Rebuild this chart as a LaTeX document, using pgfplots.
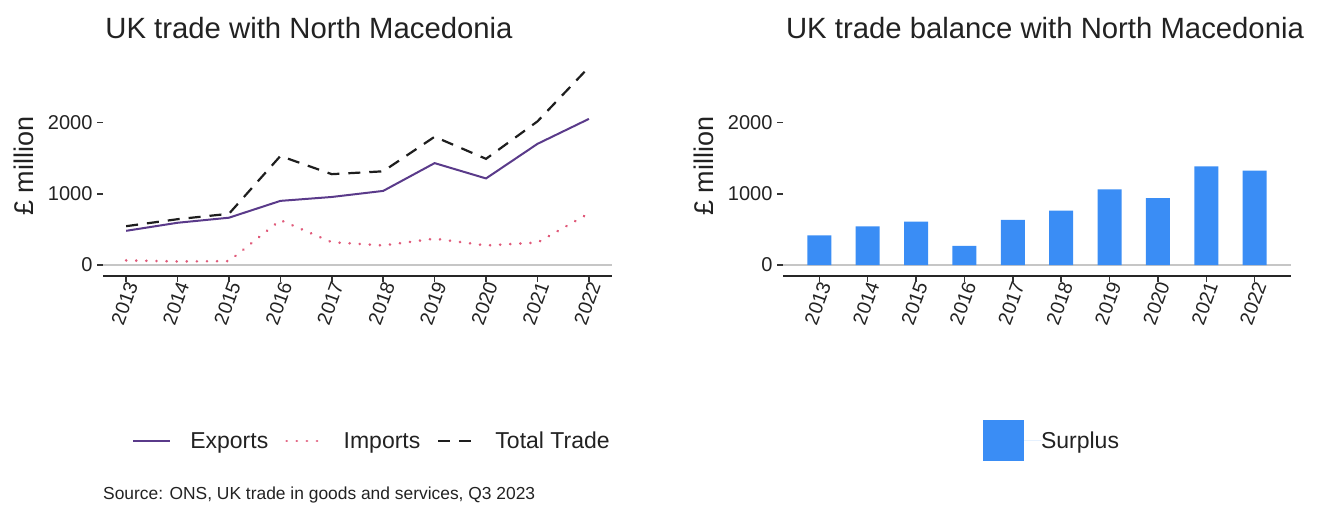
\documentclass[border=0pt]{standalone}
\usepackage{pgfplots}
\pgfplotsset{compat=1.18}
\usepackage{fontspec}
\setmainfont{Liberation Sans}
\definecolor{expcol}{HTML}{5A3A8A}
\definecolor{impcol}{HTML}{E05A7A}
\definecolor{totcol}{HTML}{1E1E1E}
\definecolor{barcol}{HTML}{3A8DF5}
\definecolor{txtcol}{HTML}{222222}
\pgfplotsset{
  panel/.style={
    scale only axis,
    anchor=south west,
    width=508pt, height=218.5pt,
    ymin=-147, ymax=2919,
    axis x line*=bottom, axis y line*=left,
    axis line style={-},
    x axis line style={line width=2pt, color=black!85},
    y axis line style={draw=none},
    tick align=outside,
    major tick length=6pt,
    tick style={line width=1.5pt, color=black!80},
    ytick={0,1000,2000},
    yticklabels={0,1000,2000},
    yticklabel style={font=\fontsize{20}{22}\selectfont, text=txtcol, xshift=-1pt},
    xticklabel style={font=\fontsize{19.5}{22}\selectfont, text=txtcol, rotate=70, anchor=east, xshift=4pt, yshift=-6pt},
    /pgf/number format/1000 sep={},
    /pgf/number format/assume math mode=true,
    clip=false,
  }
}
\begin{document}
\begin{tikzpicture}
\path[use as bounding box] (0pt,0pt) rectangle (1322pt,-513pt);
% ---------------- left panel ----------------
\begin{axis}[panel,
  at={(103pt,-275.5pt)},
  width=509pt,
  xmin=2012.55, xmax=2022.45,
  xtick={2013,2014,2015,2016,2017,2018,2019,2020,2021,2022},
  xticklabels={2013,2014,2015,2016,2017,2018,2019,2020,2021,2022},
  legend columns=3,
  legend style={at={(0.5265,-0.757)}, anchor=center, draw=none, fill=none,
    font=\fontsize{23}{27}\selectfont, text=txtcol,
    /tikz/every even column/.append style={column sep=17pt},
    nodes={inner xsep=0pt}},
  legend image code/.code={\draw[#1] (0pt,0pt) -- (37pt,0pt); \path[draw=none] (0pt,0pt) -- (57pt,0pt);},
]
\addplot[gray!45, line width=1.2pt, forget plot] coordinates {(2012.55,0) (2022.45,0)};
\addplot[expcol, line width=2pt] coordinates {
  (2013,480) (2014,593) (2015,664) (2016,900) (2017,955)
  (2018,1040) (2019,1430) (2020,1215) (2021,1700) (2022,2050)};
\addlegendentry{Exports}
\addplot[impcol, line width=2.8pt, line cap=round, dash pattern=on 0.1pt off 10pt] coordinates {
  (2013,65) (2014,50) (2015,55) (2016,630) (2017,320)
  (2018,275) (2019,370) (2020,275) (2021,315) (2022,725)};
\addlegendentry{Imports}
\addplot[totcol, line width=2.2pt, dash pattern=on 12pt off 9pt] coordinates {
  (2013,545) (2014,643) (2015,719) (2016,1530) (2017,1275)
  (2018,1315) (2019,1800) (2020,1490) (2021,2015) (2022,2775)};
\addlegendentry{Total Trade}
\end{axis}
% ---------------- right panel ----------------
\begin{axis}[panel,
  at={(783pt,-275.5pt)},
  xmin=-0.75, xmax=9.75,
  xtick={0,1,2,3,4,5,6,7,8,9},
  xticklabels={2013,2014,2015,2016,2017,2018,2019,2020,2021,2022},
  legend style={at={(0.5276,-0.757)}, anchor=center, draw=none, fill=none,
    font=\fontsize{23}{27}\selectfont, text=txtcol,
    nodes={inner xsep=0pt}},
]
\addplot[gray!45, line width=1.2pt, forget plot] coordinates {(-0.75,0) (9.75,0)};
\addplot[ybar, bar width=24pt, fill=barcol, draw=none,
  legend image code/.code={\fill[barcol] (0pt,-20.5pt) rectangle (41pt,20.5pt); \path[draw=none] (0pt,0pt) -- (58pt,0pt);}]
  coordinates {
  (0,415) (1,543) (2,609) (3,270) (4,635)
  (5,765) (6,1060) (7,940) (8,1385) (9,1325)};
\addlegendentry{Surplus}
\end{axis}
% ---------------- texts ----------------
\node[font=\fontsize{29.3}{34}\selectfont, text=txtcol] at (309pt,-28pt) {UK trade with North Macedonia};
\node[font=\fontsize{29.3}{34}\selectfont, text=txtcol] at (1045pt,-28pt) {UK trade balance with North Macedonia};
\node[rotate=90, font=\fontsize{27}{32}\selectfont, text=txtcol] at (24pt,-166pt) {£ million};
\node[rotate=90, font=\fontsize{27}{32}\selectfont, text=txtcol] at (704pt,-166pt) {£ million};
\node[anchor=west, inner sep=0pt, font=\fontsize{17.4}{21}\selectfont, text=txtcol] at (103pt,-495pt) {Source: ONS, UK trade in goods and services, Q3 2023};
\end{tikzpicture}
\end{document}
